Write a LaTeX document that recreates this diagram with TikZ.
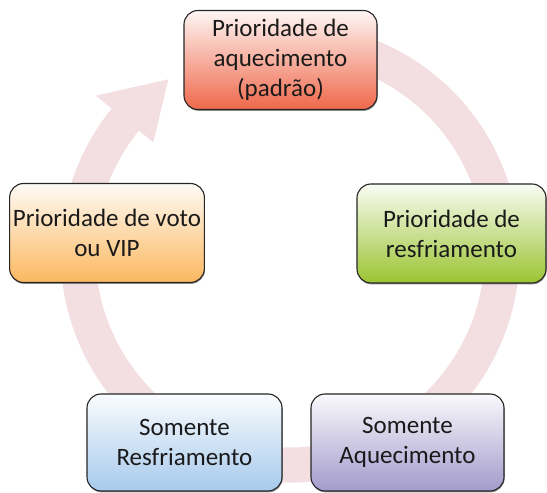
\documentclass[tikz,border=0pt]{standalone}
\usepackage{fontspec}
\setmainfont{Carlito}
\usetikzlibrary{shadows}
\definecolor{ringc}{RGB}{243,222,226}
\definecolor{redb}{RGB}{239,104,75}
\definecolor{greenb}{RGB}{155,196,50}
\definecolor{orangeb}{RGB}{251,184,95}
\definecolor{blueb}{RGB}{167,202,236}
\definecolor{purpleb}{RGB}{162,155,204}
\definecolor{txt}{RGB}{26,26,26}
\tikzset{
  box/.style={draw=black!85, line width=1.1pt, rounded corners=14pt,
    minimum width=193pt, minimum height=99pt, align=center,
    text=txt, font=\fontsize{25}{30}\selectfont,
    drop shadow={shadow xshift=0.6pt, shadow yshift=-1.4pt, opacity=0.6, fill=black!70}},
  grad/.style={top color=#1!6!white, middle color=#1!50!white, bottom color=#1}
}
\begin{document}
\begin{tikzpicture}[x=1pt,y=1pt]
\useasboundingbox (0,0) rectangle (547,493);
\begin{scope}[shift={(290,240)}]
\fill[ringc] (100:229.5pt) arc[start angle=100, end angle=-219, radius=229.5pt]
  -- (-219:250pt) -- (-235:212pt) -- (-219:176pt) -- (-219:194.5pt)
  arc[start angle=-219, end angle=100, radius=194.5pt] -- cycle;
\end{scope}
\node[box, grad=redb] (top) at (280.5,433) {Prioridade de\\aquecimento\\(padrão)};
\node[box, grad=greenb, minimum width=189pt] (right) at (451.5,259.5) {Prioridade de\\resfriamento};
\node[box, grad=orangeb, minimum width=194pt] (left) at (107,260) {Prioridade de voto\\ou VIP};
\node[box, grad=blueb, minimum width=195pt, minimum height=97pt] (bl) at (184.5,50.5) {Somente\\Resfriamento};
\node[box, grad=purpleb, minimum width=193pt, minimum height=97pt] (br) at (407.5,50.5) {Somente\\Aquecimento};
\end{tikzpicture}
\end{document}
